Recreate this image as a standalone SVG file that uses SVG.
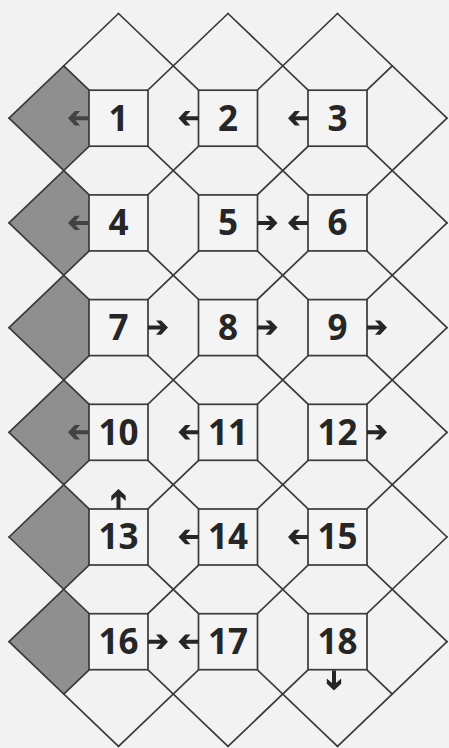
<svg xmlns="http://www.w3.org/2000/svg" xmlns:xlink="http://www.w3.org/1999/xlink" width="449" height="748" viewBox="0 0 449 748">
  <style>
    .ln { stroke: #3a3a3a; stroke-width: 1.7; fill: none; stroke-linecap: round; }
    .shade { fill: #8f8f8f; stroke: none; }
    .box { fill: #f4f4f4; stroke: #3a3a3a; stroke-width: 1.7; }
    .num { font-family: "Open Sans", "Liberation Sans", sans-serif; font-weight: 700; font-size: 35px; fill: #262626; text-anchor: middle; }
    .arr { fill: #262626; stroke: none; }
    .arrs { fill: #3a3a3a; stroke: none; opacity: 0.9; }
  </style>
  <defs>
    <polygon id="al" points="0,-2 -12.6,-2 -8,-7.2 -13.2,-7.2 -20,0 -13.2,7.2 -8,7.2 -12.6,2 0,2"/>
  </defs>
  <rect x="0" y="0" width="449" height="748" fill="#f2f2f2"/>

  <g id="shading">
    <polygon class="shade" points="9,118.2 63.75,65.85 118.5,118.2 63.75,170.55"/>
    <polygon class="shade" points="9,222.9 63.75,170.55 118.5,222.9 63.75,275.25"/>
    <polygon class="shade" points="9,327.6 63.75,275.25 118.5,327.6 63.75,379.95"/>
    <polygon class="shade" points="9,432.3 63.75,379.95 118.5,432.3 63.75,484.65"/>
    <polygon class="shade" points="9,537 63.75,484.65 118.5,537 63.75,589.35"/>
    <polygon class="shade" points="9,641.7 63.75,589.35 118.5,641.7 63.75,694.05"/>
  </g>

  <g id="connectors">
    <line class="ln" x1="337.5" y1="13.5" x2="447" y2="118.2"/>
    <line class="ln" x1="228" y1="13.5" x2="447" y2="222.9"/>
    <line class="ln" x1="118.5" y1="13.5" x2="447" y2="327.6"/>
    <line class="ln" x1="63.75" y1="65.85" x2="447" y2="432.3"/>
    <line class="ln" x1="9" y1="118.2" x2="447" y2="537"/>
    <line class="ln" x1="9" y1="222.9" x2="447" y2="641.7"/>
    <line class="ln" x1="9" y1="327.6" x2="392.25" y2="694.05"/>
    <line class="ln" x1="9" y1="432.3" x2="337.5" y2="746.4"/>
    <line class="ln" x1="9" y1="537" x2="228" y2="746.4"/>
    <line class="ln" x1="9" y1="641.7" x2="118.5" y2="746.4"/>
    <line class="ln" x1="9" y1="118.2" x2="118.5" y2="13.5"/>
    <line class="ln" x1="9" y1="222.9" x2="228" y2="13.5"/>
    <line class="ln" x1="9" y1="327.6" x2="337.5" y2="13.5"/>
    <line class="ln" x1="9" y1="432.3" x2="392.25" y2="65.85"/>
    <line class="ln" x1="9" y1="537" x2="447" y2="118.2"/>
    <line class="ln" x1="9" y1="641.7" x2="447" y2="222.9"/>
    <line class="ln" x1="63.75" y1="694.05" x2="447" y2="327.6"/>
    <line class="ln" x1="118.5" y1="746.4" x2="447" y2="432.3"/>
    <line class="ln" x1="228" y1="746.4" x2="447" y2="537"/>
    <line class="ln" x1="337.5" y1="746.4" x2="447" y2="641.7"/>
  </g>

  <g id="n1"><rect class="box" x="89" y="90.2" width="59" height="56"/><text class="num" x="118.5" y="130.5">1</text></g>
  <g id="n2"><rect class="box" x="198.5" y="90.2" width="59" height="56"/><text class="num" x="228" y="130.5">2</text></g>
  <g id="n3"><rect class="box" x="308" y="90.2" width="59" height="56"/><text class="num" x="337.5" y="130.5">3</text></g>
  <g id="n4"><rect class="box" x="89" y="194.9" width="59" height="56"/><text class="num" x="118.5" y="235.2">4</text></g>
  <g id="n5"><rect class="box" x="198.5" y="194.9" width="59" height="56"/><text class="num" x="228" y="235.2">5</text></g>
  <g id="n6"><rect class="box" x="308" y="194.9" width="59" height="56"/><text class="num" x="337.5" y="235.2">6</text></g>
  <g id="n7"><rect class="box" x="89" y="299.6" width="59" height="56"/><text class="num" x="118.5" y="339.9">7</text></g>
  <g id="n8"><rect class="box" x="198.5" y="299.6" width="59" height="56"/><text class="num" x="228" y="339.9">8</text></g>
  <g id="n9"><rect class="box" x="308" y="299.6" width="59" height="56"/><text class="num" x="337.5" y="339.9">9</text></g>
  <g id="n10"><rect class="box" x="89" y="404.3" width="59" height="56"/><text class="num" x="118.5" y="444.6">10</text></g>
  <g id="n11"><rect class="box" x="198.5" y="404.3" width="59" height="56"/><text class="num" x="228" y="444.6">11</text></g>
  <g id="n12"><rect class="box" x="308" y="404.3" width="59" height="56"/><text class="num" x="337.5" y="444.6">12</text></g>
  <g id="n13"><rect class="box" x="89" y="509" width="59" height="56"/><text class="num" x="118.5" y="549.3">13</text></g>
  <g id="n14"><rect class="box" x="198.5" y="509" width="59" height="56"/><text class="num" x="228" y="549.3">14</text></g>
  <g id="n15"><rect class="box" x="308" y="509" width="59" height="56"/><text class="num" x="337.5" y="549.3">15</text></g>
  <g id="n16"><rect class="box" x="89" y="613.7" width="59" height="56"/><text class="num" x="118.5" y="654">16</text></g>
  <g id="n17"><rect class="box" x="198.5" y="613.7" width="59" height="56"/><text class="num" x="228" y="654">17</text></g>
  <g id="n18"><rect class="box" x="308" y="613.7" width="59" height="56"/><text class="num" x="337.5" y="654">18</text></g>

  <g id="arrows">
    <use xlink:href="#al" class="arrs" transform="translate(88,118.2)"/>
    <use xlink:href="#al" class="arr" transform="translate(198.5,118.2)"/>
    <use xlink:href="#al" class="arr" transform="translate(308,118.2)"/>
    <use xlink:href="#al" class="arrs" transform="translate(88,222.9)"/>
    <use xlink:href="#al" class="arr" transform="translate(257.5,222.9) rotate(180)"/>
    <use xlink:href="#al" class="arr" transform="translate(308,222.9)"/>
    <use xlink:href="#al" class="arr" transform="translate(148,327.6) rotate(180)"/>
    <use xlink:href="#al" class="arr" transform="translate(257.5,327.6) rotate(180)"/>
    <use xlink:href="#al" class="arr" transform="translate(367,327.6) rotate(180)"/>
    <use xlink:href="#al" class="arrs" transform="translate(88,432.3)"/>
    <use xlink:href="#al" class="arr" transform="translate(198.5,432.3)"/>
    <use xlink:href="#al" class="arr" transform="translate(367,432.3) rotate(180)"/>
    <use xlink:href="#al" class="arr" transform="translate(118.5,509) rotate(90)"/>
    <use xlink:href="#al" class="arr" transform="translate(198.5,537)"/>
    <use xlink:href="#al" class="arr" transform="translate(308,537)"/>
    <use xlink:href="#al" class="arr" transform="translate(148,641.7) rotate(180)"/>
    <use xlink:href="#al" class="arr" transform="translate(198.5,641.7)"/>
    <use xlink:href="#al" class="arr" transform="translate(334,670.5) rotate(-90)"/>
  </g>
</svg>
